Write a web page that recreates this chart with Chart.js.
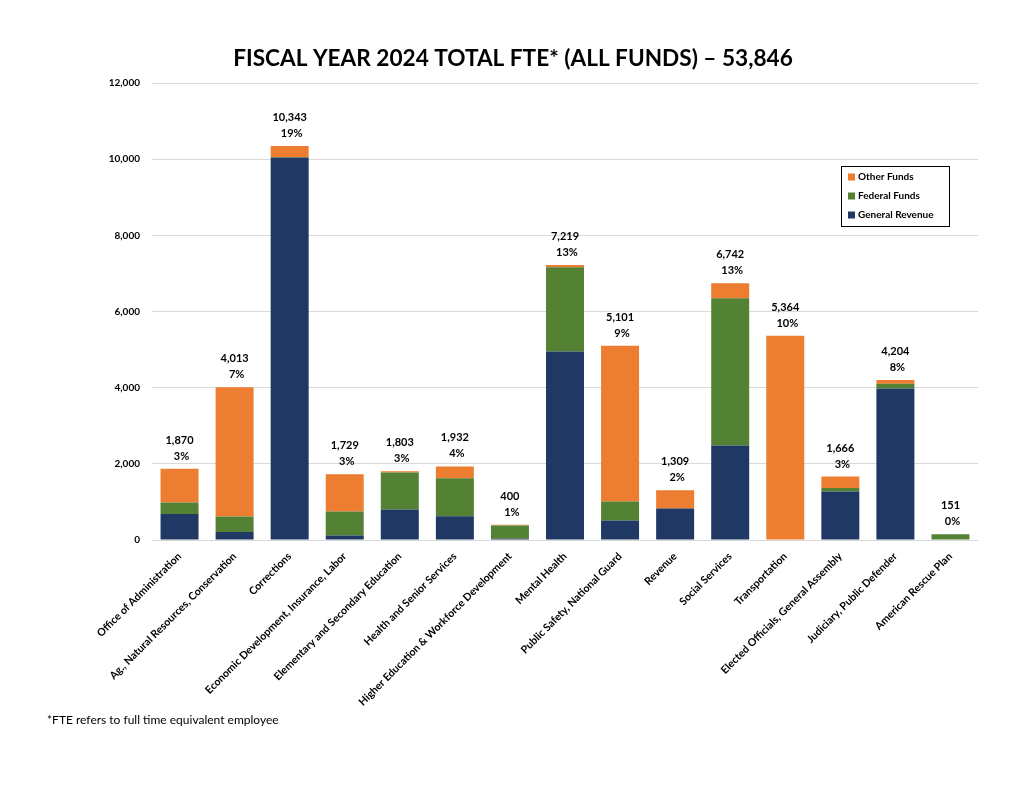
<!DOCTYPE html>
<html>
<head>
<meta charset="utf-8">
<script src="https://cdn.jsdelivr.net/npm/chart.js@4"></script>
<style>
  html, body { margin: 0; padding: 0; background: #fff; }
  #wrap { position: relative; width: 1024px; height: 791px; }
</style>
</head>
<body>
<div id="wrap"><canvas id="fte"></canvas></div>
<script>
// FY2024 FTE by department, stacked by fund source
const departments = [
  "Office of Administration", "Ag., Natural Resources, Conservation", "Corrections",
  "Economic Development, Insurance, Labor", "Elementary and Secondary Education",
  "Health and Senior Services", "Higher Education & Workforce Development", "Mental Health",
  "Public Safety, National Guard", "Revenue", "Social Services", "Transportation",
  "Elected Officials, General Assembly", "Judiciary, Public Defender", "American Rescue Plan"
]
const generalRevenue = [680, 210, 10040, 115, 800, 625, 35, 4950, 510, 825, 2480, 0, 1275, 3975, 0]
const federalFunds   = [305, 405, 20, 635, 970, 995, 345, 2210, 500, 0, 3870, 0, 90, 130, 151]
const otherFunds     = [885, 3398, 283, 979, 33, 312, 20, 59, 4091, 484, 392, 5364, 301, 99, 0]
const totals = [1870, 4013, 10343, 1729, 1803, 1932, 400, 7219, 5101, 1309, 6742, 5364, 1666, 4204, 151]
const pctLabels = ["3%", "7%", "19%", "3%", "3%", "4%", "1%", "13%", "9%", "2%", "13%", "10%", "3%", "8%", "0%"]
const yTicks = [0, 2000, 4000, 6000, 8000, 10000, 12000]

const NAVY = "#203864", GREEN = "#548235", ORANGE = "#ED7D31"
const FONT = "Lato, 'Open Sans', sans-serif"

const fmt = n => n.toLocaleString("en-US")

// totals + share above each bar, plus title, legend box and footnote
const annotate = {
  id: "annotate",
  afterDraw(chart) {
    const { ctx, scales: { x, y } } = chart
    ctx.save()
    ctx.fillStyle = "#000"
    ctx.textAlign = "center"
    ctx.textBaseline = "alphabetic"
    ctx.font = `bold 11px ${FONT}`
    totals.forEach((t, i) => {
      const px = x.getPixelForValue(i)
      const py = y.getPixelForValue(t)
      ctx.fillText(fmt(t), px, py - 25)
      ctx.fillText(pctLabels[i], px + 2, py - 9)
    })

    ctx.font = `bold 22.6px ${FONT}`
    ctx.fillText("FISCAL YEAR 2024 TOTAL FTE* (ALL FUNDS) \u2013 53,846", 513, 66)

    // legend
    const items = [["Other Funds", ORANGE], ["Federal Funds", GREEN], ["General Revenue", NAVY]]
    ctx.strokeStyle = "#000"
    ctx.lineWidth = 1
    ctx.strokeRect(841.5, 166.5, 108, 60)
    ctx.textAlign = "left"
    ctx.textBaseline = "middle"
    ctx.font = `bold 10px ${FONT}`
    items.forEach(([name, col], k) => {
      const ry = 177 + k * 19
      ctx.fillStyle = col
      ctx.fillRect(848, ry - 3.5, 7, 7)
      ctx.fillStyle = "#000"
      ctx.fillText(name, 858, ry)
    })

    ctx.font = `12px ${FONT}`
    ctx.textBaseline = "alphabetic"
    ctx.fillText("*FTE refers to full time equivalent employee", 47, 724)
    ctx.restore()
  }
}

new Chart(document.getElementById("fte"), {
  type: "bar",
  data: {
    labels: departments,
    datasets: [
      { label: "General Revenue", data: generalRevenue, backgroundColor: NAVY },
      { label: "Federal Funds", data: federalFunds, backgroundColor: GREEN },
      { label: "Other Funds", data: otherFunds, backgroundColor: ORANGE }
    ]
  },
  options: {
    responsive: true,
    maintainAspectRatio: false,
    animation: false,
    layout: { padding: { top: 83, right: 46, left: 0, bottom: 0 } },
    datasets: { bar: { barPercentage: 0.69, categoryPercentage: 1.0, borderWidth: 0 } },
    plugins: {
      legend: { display: false },
      tooltip: { enabled: false }
    },
    scales: {
      x: {
        stacked: true,
        grid: { display: false },
        border: { display: false },
        ticks: {
          color: "#000",
          font: { family: FONT, size: 10.6, weight: "bold" },
          maxRotation: 45, minRotation: 45, autoSkip: false, padding: 2
        },
        afterFit(scale) { scale.height = 251 }
      },
      y: {
        stacked: true,
        min: 0, max: 12000,
        afterBuildTicks(scale) { scale.ticks = yTicks.map(v => ({ value: v })) },
        grid: { color: "#d9d9d9", drawTicks: false, lineWidth: 1 },
        border: { display: false },
        ticks: {
          color: "#000",
          padding: 12,
          font: { family: FONT, size: 10, weight: "bold" },
          callback: v => fmt(v)
        },
        afterFit(scale) { scale.width = 152 }
      }
    }
  },
  plugins: [annotate]
})
</script>
</body>
</html>
